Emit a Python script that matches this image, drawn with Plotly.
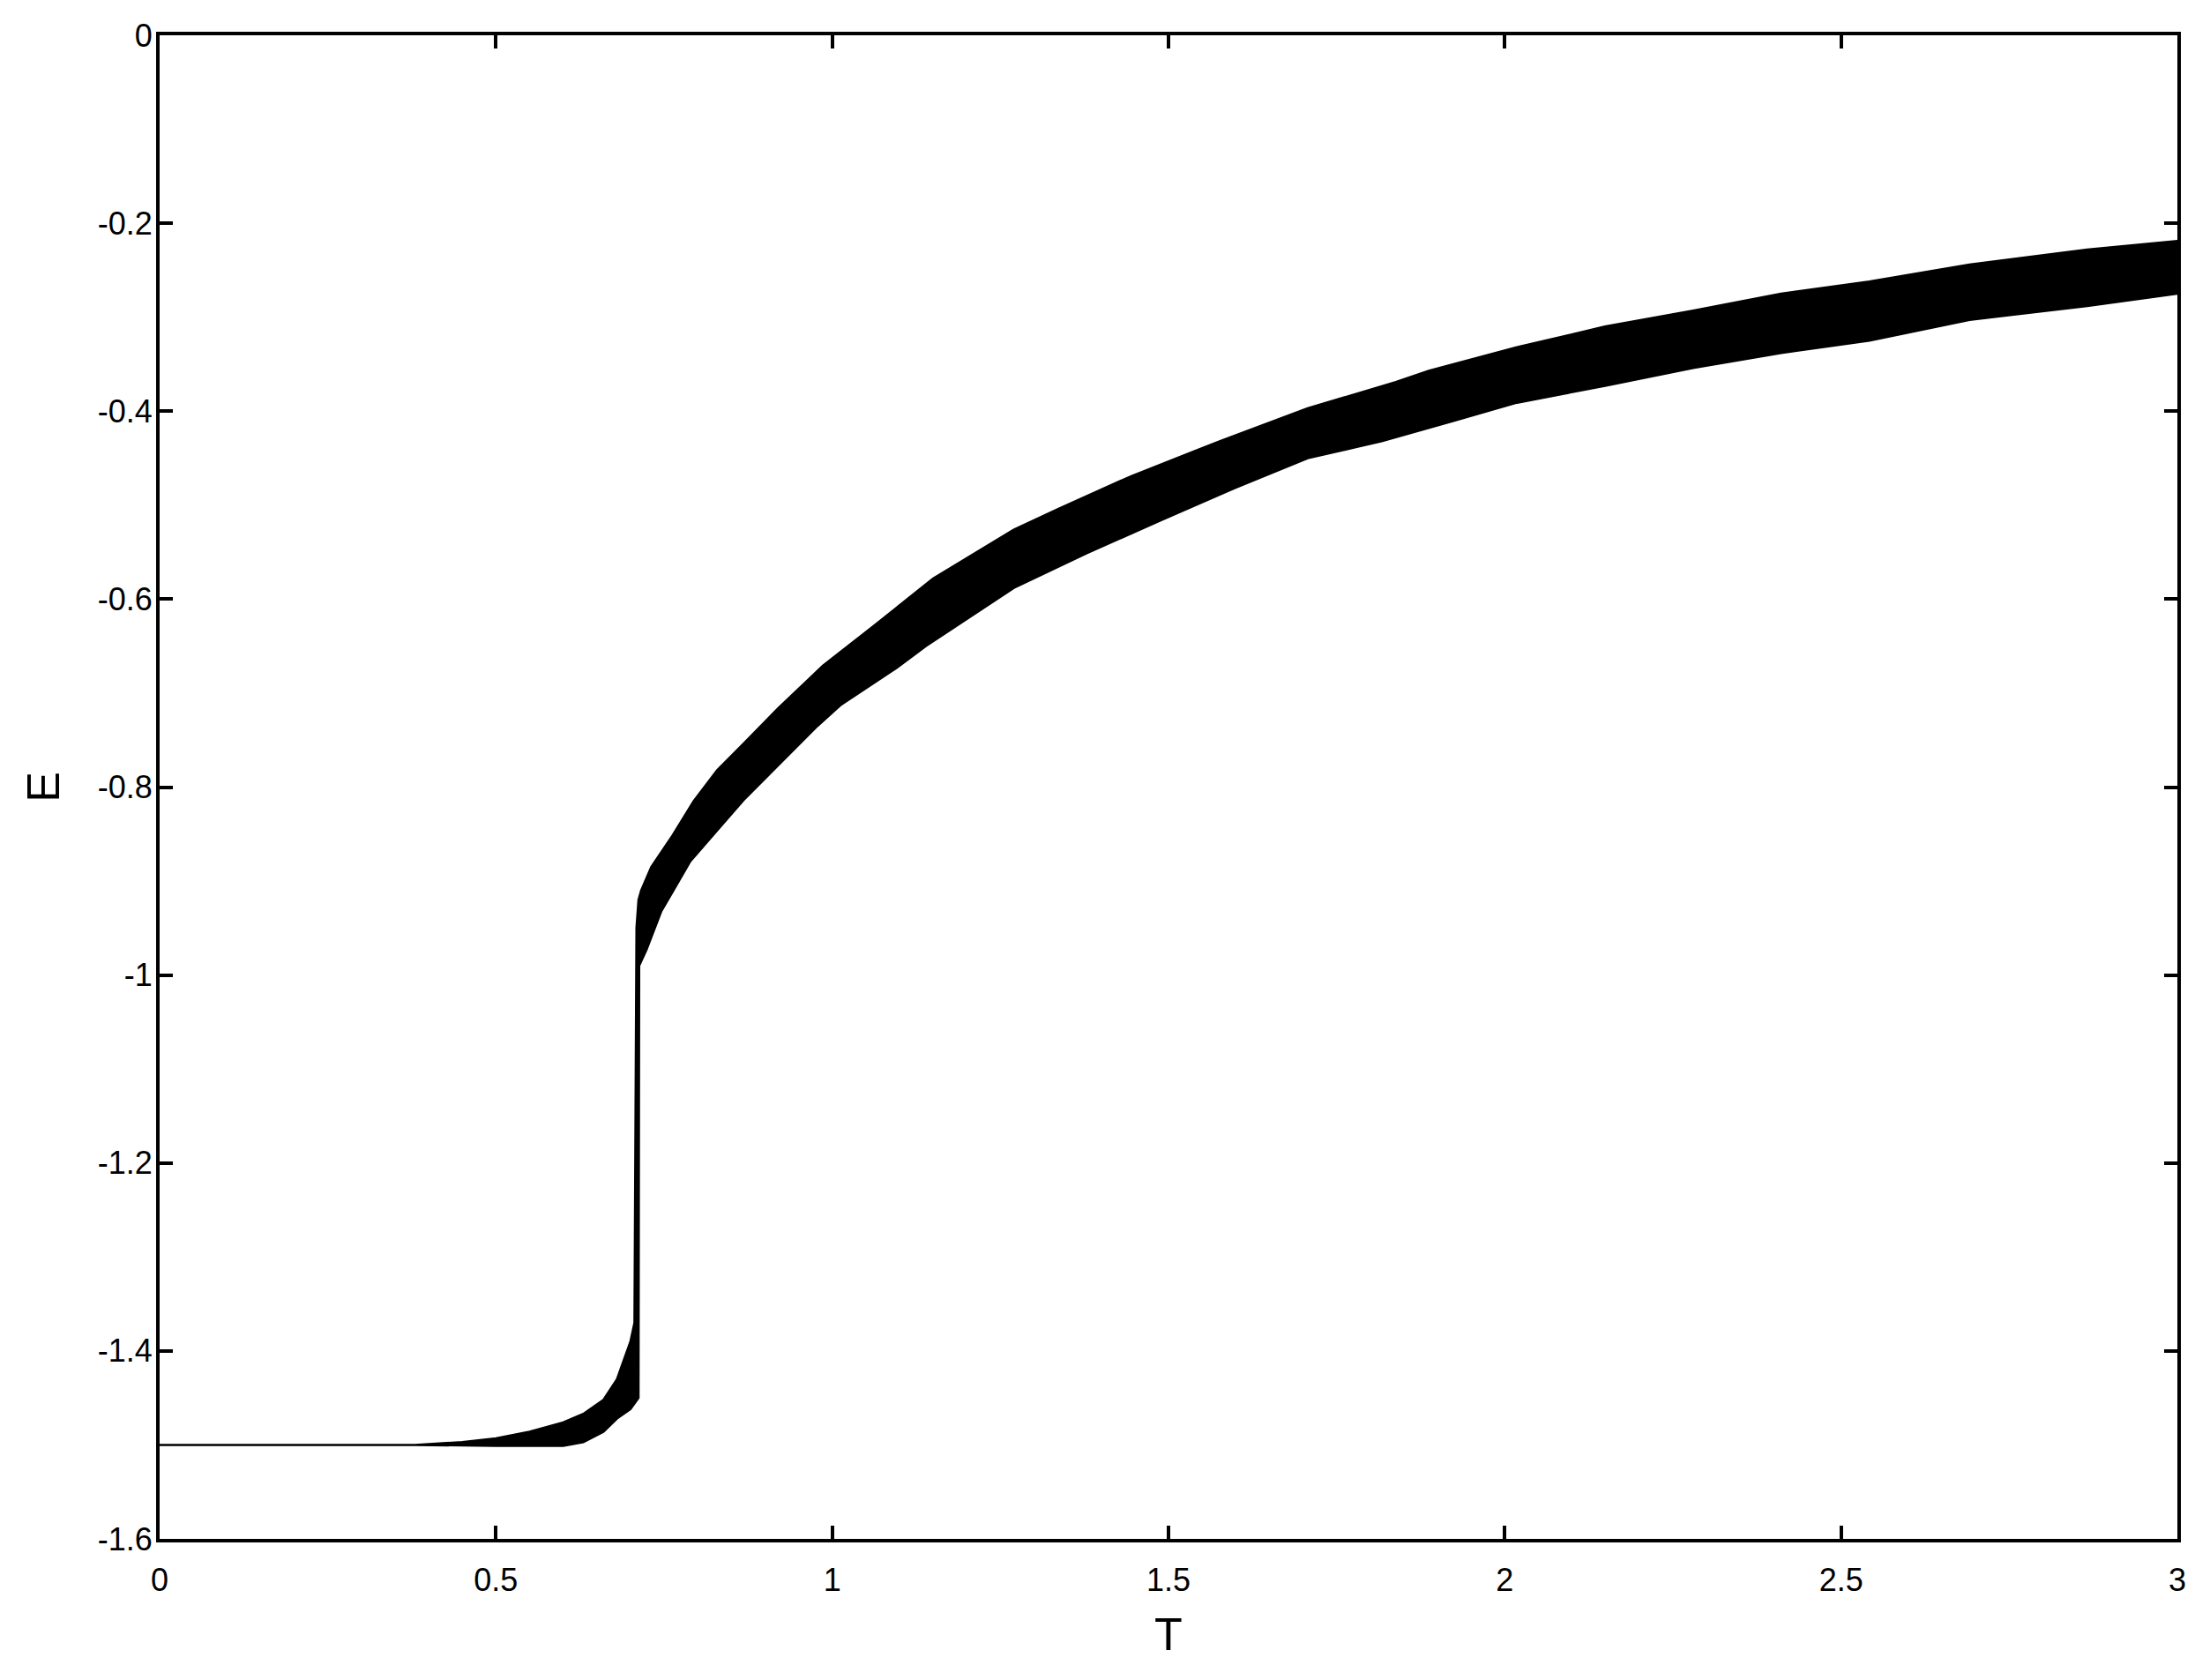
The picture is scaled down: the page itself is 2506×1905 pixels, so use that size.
import plotly.graph_objects as go

# Upper envelope of the E(T) scatter band
T_upper = [0.0, 0.38, 0.45, 0.50, 0.55, 0.60, 0.63, 0.66, 0.68, 0.69, 0.700, 0.706,
           0.709, 0.712, 0.716, 0.731, 0.763, 0.794, 0.829, 0.868, 0.920, 0.986,
           1.061, 1.150, 1.270, 1.336, 1.445, 1.576, 1.707, 1.838, 1.887, 2.018,
           2.149, 2.280, 2.411, 2.542, 2.691, 2.866, 3.0]
E_upper = [-1.500, -1.500, -1.497, -1.493, -1.486, -1.476, -1.467, -1.452, -1.430, -1.410,
           -1.390, -1.370, -0.950, -0.920, -0.910, -0.885, -0.851, -0.815, -0.782, -0.754,
           -0.716, -0.671, -0.629, -0.578, -0.526, -0.504, -0.469, -0.432, -0.397, -0.369,
           -0.357, -0.332, -0.310, -0.293, -0.275, -0.262, -0.244, -0.228, -0.219]

# Lower envelope of the band
T_lower = [0.0, 0.38, 0.50, 0.60, 0.63, 0.66, 0.68, 0.700, 0.712, 0.713, 0.724, 0.746,
           0.789, 0.834, 0.868, 0.916, 0.978, 1.012, 1.096, 1.139, 1.270, 1.379, 1.489,
           1.598, 1.707, 1.817, 1.926, 2.018, 2.149, 2.280, 2.411, 2.542, 2.691, 2.866, 3.0]
E_lower = [-1.500, -1.500, -1.501, -1.501, -1.497, -1.486, -1.472, -1.462, -1.450, -0.990,
           -0.973, -0.932, -0.879, -0.842, -0.814, -0.779, -0.735, -0.713, -0.673, -0.650,
           -0.588, -0.551, -0.516, -0.482, -0.450, -0.432, -0.410, -0.391, -0.373, -0.354,
           -0.338, -0.325, -0.303, -0.288, -0.275]

x_tickvals = [0, 0.5, 1, 1.5, 2, 2.5, 3]
x_ticktext = ["0", "0.5", "1", "1.5", "2", "2.5", "3"]
y_tickvals = [0, -0.2, -0.4, -0.6, -0.8, -1.0, -1.2, -1.4, -1.6]
y_ticktext = ["0", "-0.2", "-0.4", "-0.6", "-0.8", "-1", "-1.2", "-1.4", "-1.6"]

poly_x = T_upper + T_lower[::-1]
poly_y = E_upper + E_lower[::-1]

fig = go.Figure()
fig.add_trace(go.Scatter(
    x=poly_x, y=poly_y, mode="lines", fill="toself",
    fillcolor="black", line=dict(color="black", width=2.5),
    hoverinfo="skip", showlegend=False,
))

FONT = "Liberation Sans, Arial, Helvetica, sans-serif"
axis_common = dict(
    showline=True, linecolor="black", linewidth=4, mirror="ticks",
    ticks="inside", ticklen=15, tickwidth=4, tickcolor="black",
    showgrid=False, zeroline=False,
    tickfont=dict(family=FONT, size=36, color="black"),
)

fig.update_xaxes(range=[0, 3], tickvals=x_tickvals, ticktext=x_ticktext,
                 ticklabelstandoff=12,
                 title=dict(text="T", font=dict(family=FONT, size=52, color="black"), standoff=24),
                 **axis_common)
fig.update_yaxes(range=[-1.6, 0], tickvals=y_tickvals, ticktext=y_ticktext,
                 ticklabelstandoff=-3,
                 title=dict(text="E", font=dict(family=FONT, size=52, color="black"), standoff=28),
                 **axis_common)

fig.update_layout(
    width=2506, height=1905,
    margin=dict(l=181, r=37, t=40, b=160),
    paper_bgcolor="white", plot_bgcolor="white",
    font=dict(family=FONT, color="black"),
)

fig.write_html("out.html", config={"displayModeBar": False},
               post_script="document.body.style.margin='0';document.body.style.overflow='hidden';")
